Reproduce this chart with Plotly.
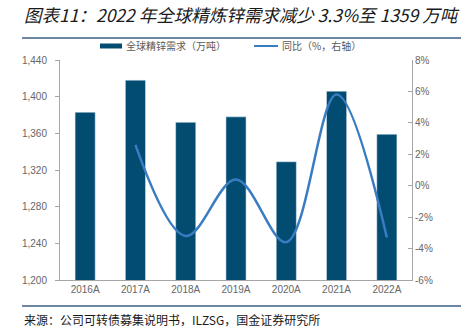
import plotly.graph_objects as go

# 全球精炼锌需求（万吨）及同比
years = ["2016A", "2017A", "2018A", "2019A", "2020A", "2021A", "2022A"]
demand = [1383, 1418, 1372, 1378, 1329, 1406, 1359]
yoy = [None, 2.6, -3.2, 0.4, -3.6, 5.8, -3.3]

left_ticks = [1200, 1240, 1280, 1320, 1360, 1400, 1440]
right_ticks = [-6, -4, -2, 0, 2, 4, 6, 8]
right_labels = [f"{v}%" for v in right_ticks]

BAR_COLOR = "#024c72"
LINE_COLOR = "#3a7cc2"
TICK_COLOR = "#666666"
AXIS_COLOR = "#a6a6a6"

W, H = 461, 330
ML, MR, MT, MB = 60, 49, 60, 50
PW = W - ML - MR
PH = H - MT - MB


def px(x):
    return (x - ML) / PW


def py(y):
    return (H - MB - y) / PH


fig = go.Figure()
fig.add_trace(go.Bar(
    x=years, y=demand, marker_color=BAR_COLOR, width=0.4,
    name="全球精锌需求（万吨）", showlegend=False,
))
fig.add_trace(go.Scatter(
    x=years, y=yoy, yaxis="y2", mode="lines",
    line=dict(color=LINE_COLOR, width=2.5, shape="spline", smoothing=1.0),
    name="同比（%，右轴）", showlegend=False, connectgaps=False,
))

tick_font = dict(family="Liberation Sans, Arial, sans-serif", size=10, color=TICK_COLOR)

fig.update_layout(
    width=W, height=H,
    margin=dict(l=ML, r=MR, t=MT, b=MB),
    plot_bgcolor="white", paper_bgcolor="white",
    xaxis=dict(
        showline=True, linecolor=AXIS_COLOR, linewidth=1,
        showgrid=False, tickfont=tick_font, ticks="",
    ),
    yaxis=dict(
        range=[1200, 1440], tickvals=left_ticks, tickformat=",",
        showline=True, linecolor=AXIS_COLOR, linewidth=1,
        ticks="outside", ticklen=4, tickcolor=AXIS_COLOR,
        showgrid=False, zeroline=False, tickfont=tick_font,
        ticklabelstandoff=6,
    ),
    yaxis2=dict(
        range=[-6, 8], tickmode="array", tickvals=right_ticks, ticktext=right_labels,
        overlaying="y", side="right",
        showline=True, linecolor=AXIS_COLOR, linewidth=1,
        ticks="inside", ticklen=4, tickcolor=AXIS_COLOR,
        showgrid=False, zeroline=False, tickfont=tick_font,
    ),
    showlegend=False,
)

cjk = "Noto Sans CJK SC, sans-serif"
annotations = [
    dict(text="<i>图表11：2022 年全球精炼锌需求减少 3.3%至 1359 万吨</i>",
         x=px(22), y=py(15), xref="paper", yref="paper",
         xanchor="left", yanchor="middle", showarrow=False,
         font=dict(family=cjk, size=17.5, color="#1a1a1a")),
    dict(text="全球精锌需求（万吨）", x=px(124), y=py(46), xref="paper", yref="paper",
         xanchor="left", yanchor="middle", showarrow=False,
         font=dict(family=cjk, size=10, color="#595959")),
    dict(text="同比（%，右轴）", x=px(280), y=py(46), xref="paper", yref="paper",
         xanchor="left", yanchor="middle", showarrow=False,
         font=dict(family=cjk, size=10, color="#595959")),
    dict(text="来源：公司可转债募集说明书，ILZSG，国金证券研究所",
         x=px(22), y=py(319), xref="paper", yref="paper",
         xanchor="left", yanchor="middle", showarrow=False,
         font=dict(family=cjk, size=12, color="#1a1a1a")),
]

shapes = [
    dict(type="line", xref="paper", yref="paper", x0=px(22), x1=px(461),
         y0=py(38), y1=py(38), line=dict(color="#3b5f85", width=1.5)),
    dict(type="line", xref="paper", yref="paper", x0=px(22), x1=px(461),
         y0=py(306), y1=py(306), line=dict(color="#3b5f85", width=1.5)),
    dict(type="rect", xref="paper", yref="paper", x0=px(100), x1=px(122),
         y0=py(48.5), y1=py(43.5), line=dict(width=0), fillcolor=BAR_COLOR),
    dict(type="line", xref="paper", yref="paper", x0=px(254), x1=px(278),
         y0=py(46), y1=py(46), line=dict(color=LINE_COLOR, width=2)),
]

fig.update_layout(annotations=annotations, shapes=shapes)
fig.write_html("out.html")
